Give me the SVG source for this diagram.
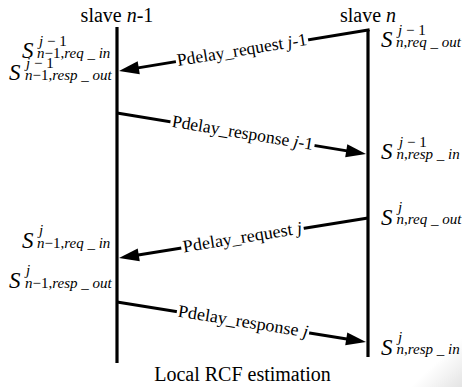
<svg xmlns="http://www.w3.org/2000/svg" width="462" height="387" viewBox="0 0 462 387">
<style>
text{font-family:"Liberation Serif","Times New Roman",serif;fill:#000}
.h{font-size:20px}
.m{font-size:17.5px}
.lbl{font-size:15px}
.S{font-size:23px;font-style:italic}
.i{font-style:italic}
.life{stroke:#000;stroke-width:3.2;fill:none}
.msg{stroke:#000;stroke-width:3;fill:none;marker-end:url(#ah)}
.gap{fill:#fff}
</style>
<defs>
<marker id="ah" markerUnits="userSpaceOnUse" markerWidth="20" markerHeight="13" refX="10" refY="6.5" orient="auto" overflow="visible">
<path d="M0,0 L20,6.5 L0,13 Z" fill="#000"/>
</marker>
<linearGradient id="curl" x1="0.55" y1="0.55" x2="1" y2="1">
<stop offset="0" stop-color="#fff"/>
<stop offset="1" stop-color="#e4e4e4"/>
</linearGradient>
</defs>
<rect width="462" height="387" fill="#fff"/>
<polygon points="405,387 462,332 462,387" fill="url(#curl)"/>

<g id="slave-n-1">
<line class="life" x1="117" y1="27" x2="117" y2="363"/>
<text class="h" x="117" y="22" text-anchor="middle">slave <tspan class="i">n</tspan>-1</text>
</g>
<g id="slave-n">
<line class="life" x1="368" y1="30" x2="368" y2="357"/>
<text class="h" x="368" y="22" text-anchor="middle">slave <tspan class="i">n</tspan></text>
</g>

<g id="connectors">
<line class="msg" x1="369.6" y1="29.7" x2="128.87" y2="69.38"/>
<line class="msg" x1="117" y1="113" x2="356.13" y2="152.38"/>
<line class="msg" x1="368" y1="218" x2="128.87" y2="256.41"/>
<line class="msg" x1="117" y1="302" x2="356.13" y2="340.41"/>
<g transform="rotate(-9.35 242 50.75)">
<rect class="gap" x="175" y="45.5" width="134" height="10.5"/>
<text class="m" x="242" y="55.5" text-anchor="middle" textLength="131.5" lengthAdjust="spacingAndGlyphs">Pdelay_request <tspan class="i">j</tspan>-1</text>
</g>
<g transform="rotate(9.35 242.5 133.66)">
<rect class="gap" x="169.5" y="128.4" width="146" height="10.5"/>
<text class="m" x="242.5" y="138.4" text-anchor="middle" textLength="143" lengthAdjust="spacingAndGlyphs">Pdelay_response <tspan class="i">j</tspan>-1</text>
</g>
<g transform="rotate(-9.13 242.5 238.16)">
<rect class="gap" x="180.5" y="232.9" width="124" height="10.5"/>
<text class="m" x="242.5" y="242.9" text-anchor="middle" textLength="120.5" lengthAdjust="spacingAndGlyphs">Pdelay_request <tspan class="i">j</tspan></text>
</g>
<g transform="rotate(9.13 243 322.24)">
<rect class="gap" x="176" y="317" width="134" height="10.5"/>
<text class="m" x="243" y="327" text-anchor="middle" textLength="131.5" lengthAdjust="spacingAndGlyphs">Pdelay_response <tspan class="i">j</tspan></text>
</g>
</g>

<g id="ts-n-1-req-in-j-1">
<text class="lbl"><tspan class="S" x="22" y="58">S</tspan><tspan x="39" y="46"><tspan class="i">j</tspan> − 1</tspan><tspan x="37" y="57.5"><tspan class="i">n</tspan>−1,<tspan class="i">req</tspan> _ <tspan class="i">in</tspan></tspan></text>
</g>
<g id="ts-n-1-resp-out-j-1">
<text class="lbl"><tspan class="S" x="9" y="80">S</tspan><tspan x="26" y="67.5"><tspan class="i">j</tspan> − 1</tspan><tspan x="25" y="79.5"><tspan class="i">n</tspan>−1,<tspan class="i">resp</tspan> _ <tspan class="i">out</tspan></tspan></text>
</g>
<g id="ts-n-1-req-in-j">
<text class="lbl"><tspan class="S" x="22" y="248">S</tspan><tspan class="i" x="39" y="235">j</tspan><tspan x="37" y="248"><tspan class="i">n</tspan>−1,<tspan class="i">req</tspan> _ <tspan class="i">in</tspan></tspan></text>
</g>
<g id="ts-n-1-resp-out-j">
<text class="lbl"><tspan class="S" x="9" y="288">S</tspan><tspan class="i" x="26" y="275">j</tspan><tspan x="25" y="287.5"><tspan class="i">n</tspan>−1,<tspan class="i">resp</tspan> _ <tspan class="i">out</tspan></tspan></text>
</g>

<g id="ts-n-req-out-j-1">
<text class="lbl"><tspan class="S" x="381" y="47">S</tspan><tspan x="398" y="35"><tspan class="i">j</tspan> − 1</tspan><tspan x="396" y="46.5"><tspan class="i">n</tspan>,<tspan class="i">req</tspan> _ <tspan class="i">out</tspan></tspan></text>
</g>
<g id="ts-n-resp-in-j-1">
<text class="lbl"><tspan class="S" x="381" y="159">S</tspan><tspan x="399" y="147"><tspan class="i">j</tspan> − 1</tspan><tspan x="396.5" y="159"><tspan class="i">n</tspan>,<tspan class="i">resp</tspan> _ <tspan class="i">in</tspan></tspan></text>
</g>
<g id="ts-n-req-out-j">
<text class="lbl"><tspan class="S" x="381" y="225">S</tspan><tspan class="i" x="398" y="212">j</tspan><tspan x="396.5" y="224"><tspan class="i">n</tspan>,<tspan class="i">req</tspan> _ <tspan class="i">out</tspan></tspan></text>
</g>
<g id="ts-n-resp-in-j">
<text class="lbl"><tspan class="S" x="381" y="355">S</tspan><tspan class="i" x="398" y="342">j</tspan><tspan x="396.5" y="354"><tspan class="i">n</tspan>,<tspan class="i">resp</tspan> _ <tspan class="i">in</tspan></tspan></text>
</g>

<text class="h" x="242.5" y="381" text-anchor="middle">Local RCF estimation</text>
</svg>
